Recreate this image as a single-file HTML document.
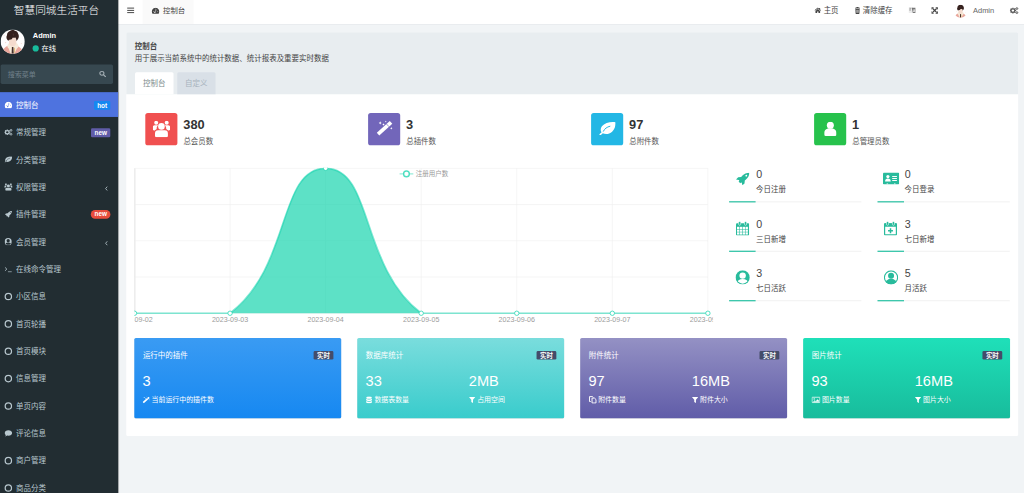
<!DOCTYPE html>
<html lang="zh-CN"><head><meta charset="utf-8"><title>智慧同城生活平台</title>
<style>
html,body{margin:0;padding:0}
body{width:1024px;height:493px;overflow:hidden;position:relative;background:#f1f4f6;font-family:"Liberation Sans","Noto Sans CJK SC",sans-serif;}
.t{position:absolute;white-space:nowrap;}
.abs{position:absolute}
#layer{position:absolute;left:0;top:0}
.badge{position:absolute;color:#fff;font-weight:700;text-align:center;white-space:nowrap}
</style></head><body>

<svg id="layer" width="1024" height="493" viewBox="0 0 1024 493"><rect x="118.00" y="0.00" width="906.00" height="24.00" rx="0" fill="#fff" /><rect x="118.00" y="24.00" width="906.00" height="0.55" rx="0" fill="#e2e6e9" /><rect x="127.20" y="7.60" width="6.90" height="1.00" rx="0" fill="#4a4a4a" /><rect x="127.20" y="9.90" width="6.90" height="1.00" rx="0" fill="#4a4a4a" /><rect x="127.20" y="12.10" width="6.90" height="1.00" rx="0" fill="#4a4a4a" /><rect x="142.60" y="0.00" width="50.90" height="24.00" rx="0" fill="#fafafa" /><rect x="126.25" y="32.30" width="891.90" height="403.70" rx="1.5" fill="#fff" /><path fill="#e8edf0" d="M126.25 94.25V33.80a1.5 1.5 0 0 1 1.5 -1.5H1016.65a1.5 1.5 0 0 1 1.5 1.5V94.25z"/><path fill="#fff" d="M135.00 94.25V73.80a1.5 1.5 0 0 1 1.5 -1.5H172.00a1.5 1.5 0 0 1 1.5 1.5V94.25z"/><path fill="#d9e0e7" d="M177.25 94.25V73.80a1.5 1.5 0 0 1 1.5 -1.5H214.05a1.5 1.5 0 0 1 1.5 1.5V94.25z"/><rect x="145.30" y="113.00" width="32.10" height="32.35" rx="2.6" fill="#f05050" /><rect x="368.10" y="113.00" width="32.10" height="32.35" rx="2.6" fill="#7266ba" /><rect x="591.10" y="113.00" width="32.10" height="32.35" rx="2.6" fill="#23b7e5" /><rect x="814.10" y="113.00" width="32.10" height="32.35" rx="2.6" fill="#27c24c" /><rect x="729.10" y="201.25" width="132.30" height="1.15" rx="0" fill="#f3f3f3" /><rect x="729.10" y="201.25" width="26.50" height="1.15" rx="0" fill="#1fbf9f" /><rect x="877.50" y="201.25" width="132.30" height="1.15" rx="0" fill="#f3f3f3" /><rect x="877.50" y="201.25" width="26.50" height="1.15" rx="0" fill="#1fbf9f" /><rect x="729.10" y="250.70" width="132.30" height="1.15" rx="0" fill="#f3f3f3" /><rect x="729.10" y="250.70" width="26.50" height="1.15" rx="0" fill="#1fbf9f" /><rect x="877.50" y="250.70" width="132.30" height="1.15" rx="0" fill="#f3f3f3" /><rect x="877.50" y="250.70" width="26.50" height="1.15" rx="0" fill="#1fbf9f" /><rect x="729.10" y="300.15" width="132.30" height="1.15" rx="0" fill="#f3f3f3" /><rect x="729.10" y="300.15" width="26.50" height="1.15" rx="0" fill="#1fbf9f" /><rect x="877.50" y="300.15" width="132.30" height="1.15" rx="0" fill="#f3f3f3" /><rect x="877.50" y="300.15" width="26.50" height="1.15" rx="0" fill="#1fbf9f" /><linearGradient id="cg0" x1="0" y1="0" x2="0" y2="1"><stop offset="0" stop-color="#3a9bf3"/><stop offset="1" stop-color="#1688f1"/></linearGradient><rect x="134.30" y="338.40" width="206.90" height="80.40" rx="1.6" fill="rgba(0,0,0,.10)" /><rect x="134.30" y="337.90" width="206.90" height="80.40" rx="1.6" fill="url(#cg0)" /><rect x="313.60" y="351.10" width="19.80" height="8.50" rx="1.3" fill="#444c69" /><linearGradient id="cg1" x1="0" y1="0" x2="0" y2="1"><stop offset="0" stop-color="#7adddd"/><stop offset="1" stop-color="#39cccc"/></linearGradient><rect x="357.25" y="338.40" width="206.90" height="80.40" rx="1.6" fill="rgba(0,0,0,.10)" /><rect x="357.25" y="337.90" width="206.90" height="80.40" rx="1.6" fill="url(#cg1)" /><rect x="536.55" y="351.10" width="19.80" height="8.50" rx="1.3" fill="#444c69" /><linearGradient id="cg2" x1="0" y1="0" x2="0" y2="1"><stop offset="0" stop-color="#9491c4"/><stop offset="1" stop-color="#605ca8"/></linearGradient><rect x="580.20" y="338.40" width="206.90" height="80.40" rx="1.6" fill="rgba(0,0,0,.10)" /><rect x="580.20" y="337.90" width="206.90" height="80.40" rx="1.6" fill="url(#cg2)" /><rect x="759.50" y="351.10" width="19.80" height="8.50" rx="1.3" fill="#444c69" /><linearGradient id="cg3" x1="0" y1="0" x2="0" y2="1"><stop offset="0" stop-color="#1fe0b9"/><stop offset="1" stop-color="#18bc9c"/></linearGradient><rect x="803.15" y="338.40" width="206.90" height="80.40" rx="1.6" fill="rgba(0,0,0,.10)" /><rect x="803.15" y="337.90" width="206.90" height="80.40" rx="1.6" fill="url(#cg3)" /><rect x="982.45" y="351.10" width="19.80" height="8.50" rx="1.3" fill="#444c69" /><clipPath id="cv"><rect x="134.3" y="167.75" width="578.75" height="160"/></clipPath><g clip-path="url(#cv)"><path stroke="#eeeeee" stroke-width=".6" d="M134.50 168.3V313.25"/><path stroke="#eeeeee" stroke-width=".6" d="M230.07 168.3V313.25"/><path stroke="#eeeeee" stroke-width=".6" d="M325.63 168.3V313.25"/><path stroke="#eeeeee" stroke-width=".6" d="M421.20 168.3V313.25"/><path stroke="#eeeeee" stroke-width=".6" d="M516.77 168.3V313.25"/><path stroke="#eeeeee" stroke-width=".6" d="M612.33 168.3V313.25"/><path stroke="#eeeeee" stroke-width=".6" d="M707.90 168.3V313.25"/><path stroke="#dcdcdc" stroke-width=".9" d="M134.85 168.3V313.25"/><path stroke="#eeeeee" stroke-width=".6" d="M134.5 168.30H707.9"/><path stroke="#eeeeee" stroke-width=".6" d="M134.5 204.54H707.9"/><path stroke="#eeeeee" stroke-width=".6" d="M134.5 240.78H707.9"/><path stroke="#eeeeee" stroke-width=".6" d="M134.5 277.01H707.9"/><path stroke="#eeeeee" stroke-width=".6" d="M134.5 313.25H707.9"/><path d="M134.50 313.25C134.50 313.25 196.14 313.25 230.07 313.25C291.71 266.51 277.85 168.30 325.63 168.30C373.42 168.30 359.56 266.51 421.20 313.25C455.13 313.25 468.98 313.25 516.77 313.25C564.55 313.25 564.55 313.25 612.33 313.25C660.12 313.25 707.90 313.25 707.90 313.25L707.90 313.25L134.50 313.25Z" fill="#18d4ae" fill-opacity=".7"/><path d="M134.50 313.25C134.50 313.25 196.14 313.25 230.07 313.25C291.71 266.51 277.85 168.30 325.63 168.30C373.42 168.30 359.56 266.51 421.20 313.25C455.13 313.25 468.98 313.25 516.77 313.25C564.55 313.25 564.55 313.25 612.33 313.25C660.12 313.25 707.90 313.25 707.90 313.25" fill="none" stroke="#18d4ae" stroke-opacity=".55" stroke-width="1.7"/><circle cx="134.50" cy="313.25" r="2.2" fill="#fff" stroke="#18d4ae" stroke-opacity=".8" stroke-width=".9"/><circle cx="230.07" cy="313.25" r="2.2" fill="#fff" stroke="#18d4ae" stroke-opacity=".8" stroke-width=".9"/><circle cx="325.63" cy="168.30" r="2.2" fill="#fff" stroke="#18d4ae" stroke-opacity=".8" stroke-width=".9"/><circle cx="421.20" cy="313.25" r="2.2" fill="#fff" stroke="#18d4ae" stroke-opacity=".8" stroke-width=".9"/><circle cx="516.77" cy="313.25" r="2.2" fill="#fff" stroke="#18d4ae" stroke-opacity=".8" stroke-width=".9"/><circle cx="612.33" cy="313.25" r="2.2" fill="#fff" stroke="#18d4ae" stroke-opacity=".8" stroke-width=".9"/><circle cx="707.90" cy="313.25" r="2.2" fill="#fff" stroke="#18d4ae" stroke-opacity=".8" stroke-width=".9"/><text x="134.50" y="322.3" text-anchor="middle" font-size="7.1" fill="#9c9c9c" font-family='"Liberation Sans","Noto Sans CJK SC",sans-serif'>2023-09-02</text><text x="230.07" y="322.3" text-anchor="middle" font-size="7.1" fill="#9c9c9c" font-family='"Liberation Sans","Noto Sans CJK SC",sans-serif'>2023-09-03</text><text x="325.63" y="322.3" text-anchor="middle" font-size="7.1" fill="#9c9c9c" font-family='"Liberation Sans","Noto Sans CJK SC",sans-serif'>2023-09-04</text><text x="421.20" y="322.3" text-anchor="middle" font-size="7.1" fill="#9c9c9c" font-family='"Liberation Sans","Noto Sans CJK SC",sans-serif'>2023-09-05</text><text x="516.77" y="322.3" text-anchor="middle" font-size="7.1" fill="#9c9c9c" font-family='"Liberation Sans","Noto Sans CJK SC",sans-serif'>2023-09-06</text><text x="612.33" y="322.3" text-anchor="middle" font-size="7.1" fill="#9c9c9c" font-family='"Liberation Sans","Noto Sans CJK SC",sans-serif'>2023-09-07</text><text x="707.90" y="322.3" text-anchor="middle" font-size="7.1" fill="#9c9c9c" font-family='"Liberation Sans","Noto Sans CJK SC",sans-serif'>2023-09-08</text><path stroke="#18d4ae" stroke-opacity=".45" stroke-width="1.2" d="M399.6 173.9H413.3"/><circle cx="406.45" cy="173.9" r="2.85" fill="#fff" stroke="#18d4ae" stroke-opacity=".75" stroke-width="1.4"/><text x="415.75" y="176.1" font-size="6.5" fill="#9a9a9a" font-family='"Liberation Sans","Noto Sans CJK SC",sans-serif'>注册用户数</text></g><linearGradient id="sbs" x1="0" y1="0" x2="1" y2="0"><stop offset="0" stop-color="#000" stop-opacity=".38"/><stop offset="1" stop-color="#000" stop-opacity="0"/></linearGradient><rect x="118.1" y="0" width="1.5" height="493" fill="url(#sbs)"/><rect x="0" y="0" width="118.1" height="493" fill="#222d32"/><circle cx="35.7" cy="48.4" r="3.1" fill="#18bc9c"/><rect x=".6" y="64.4" width="112.4" height="19.5" rx="1.6" fill="#374850"/><rect x="0" y="92.15" width="118.1" height="24.8" fill="#4e73df"/><rect x="94" y="101" width="16.3" height="8.7" rx="1.3" fill="#1688f1"/><rect x="91" y="128.20" width="19.3" height="9" rx="1.3" fill="#605ca8"/><rect x="90.8" y="210.10" width="19.6" height="8.6" rx="4.3" fill="#e74c3c"/><svg x="0.60" y="29.50" width="24.2" height="24.2" viewBox="0 0 24 24" preserveAspectRatio="none"><clipPath id="av1"><circle cx="12" cy="12" r="12"/></clipPath><g clip-path="url(#av1)"><rect width="24" height="24" fill="#fefdfd"/><circle cx="3.600" cy="5.600" r=".45" fill="#f2c4bd"/><circle cx="5" cy="13" r=".6" fill="#f6d2cc"/><circle cx="20.500" cy="14" r=".5" fill="#f6d2cc"/><path fill="#e9a69b" d="M1.500 24.500c0-4.600 2.800-7.700 6.800-8.700l3.700 3.400 3.800-3.200c3.800 1.100 6.700 4 6.700 8.500z"/><path fill="#f6ebdb" d="M6.800 15.700c.6-1.800 2.400-3.200 5.200-3.200s4.800 1.300 5.500 3.100c.4 1.200-.2 2.500-1.300 3.300L13.600 24H10l-2-5.200c-1-.8-1.600-1.900-1.200-3.100z"/><path fill="#f4dbce" d="M8.300 8h7.300v4.600c0 2.400-1.600 4.200-3.600 4.200s-3.700-1.800-3.700-4.200z"/><path fill="#35211e" d="M7.300 10.800c-1.600-1.100-2-3.500-.9-5.300-.2-1.700 1-3.500 2.800-4.100C10.300.500 12.300.300 13.800.900c1.800.300 3.200 1.500 3.600 3.200 1 1.500 1 3.900-.3 5.500-.4.900-1 1.400-1.600 1.600.2-1.300-.1-2.500-.8-3.300-.9.500-1.900.500-2.800.200-.3 1-.9 1.700-1.800 2-.9-.2-1.500.000-2 .700z"/><path fill="#6b4a40" d="M12.300 3.400c.5 1 .6 2.100.3 3.200-.4-.9-.6-2-.3-3.200z"/><path fill="#45302b" d="M11.200 17.300h1.500l.3 6.700h-2.100z"/><path fill="#d8a55a" d="M13.600 18h.7V23h-.7z"/></g></svg><svg x="99.00" y="70.60" width="7.1" height="6.7" viewBox="0 0 16 16" preserveAspectRatio="none"><circle cx="6.500" cy="6.500" r="4.600" fill="none" stroke="#a3aeb4" stroke-width="2.400"/><path stroke="#a3aeb4" stroke-width="2.800" stroke-linecap="round" d="M10.400 10.400l4.100 4.100"/></svg><svg x="4.40" y="101.60" width="8" height="6.8" viewBox="0 1 16 13" preserveAspectRatio="none"><path fill="#fff" d="M8 1.5A7.5 7.5 0 0 0 1.6 12.9c.2.4.6.6 1 .6h10.8c.4 0 .8-.2 1-.6A7.5 7.5 0 0 0 8 1.5z"/><path fill="none" stroke="#4e73df" stroke-width="1.1" d="M6.6 10.6 9.4 5"/><circle cx="6.6" cy="10.6" r="1.3" fill="#4e73df"/><circle cx="3.6" cy="8.6" r=".8" fill="#4e73df"/><circle cx="12.4" cy="8.6" r=".8" fill="#4e73df"/><circle cx="8" cy="4" r=".8" fill="#4e73df"/></svg><svg x="4.40" y="128.65" width="8.2" height="7.2" viewBox="0 0 16 16" preserveAspectRatio="none"><circle cx="5.600" cy="8" r="3.700" fill="none" stroke="#b8c7ce" stroke-width="2.500"/><path stroke="#b8c7ce" stroke-width="2.200" d="M5.600 2v2M5.600 12v2M-.4 8h2M9.600 8h2M1.400 3.800l1.400 1.400M8.400 10.800l1.400 1.400M1.400 12.200l1.400-1.400M8.400 5.200l1.400-1.400"/><circle cx="13" cy="3.600" r="1.700" fill="none" stroke="#b8c7ce" stroke-width="1.700"/><circle cx="13" cy="12.400" r="1.700" fill="none" stroke="#b8c7ce" stroke-width="1.700"/><path stroke="#b8c7ce" stroke-width="1.300" d="M13 .5v1.300M13 5.400v1.300M10 3.600h1.300M14.700 3.600H16M13 9.300v1.300M13 14.200v1.300M10 12.400h1.300M14.700 12.400H16"/></svg><svg x="4.40" y="156.30" width="8" height="6.2" viewBox="0 0 17 14" preserveAspectRatio="none"><path fill="#b8c7ce" d="M16.300.500C11.500-.200 5.500 1.200 2.800 4.800 1.200 7 1.300 9.400 2.500 10.900L.5 12.600a.85.85 0 0 0 1.200 1.200l2-1.800c2.600 1.300 6.600 1 9.300-1.700 3-3 3.600-6.600 3.300-9.800z"/><path fill="none" stroke="#222d32" stroke-width="1" stroke-linecap="round" d="M4.300 9.800C5.500 7.200 7.800 5.400 10.800 4.700"/></svg><svg x="4.30" y="183.35" width="8.2" height="7.4" viewBox="0 0 17.3 16.4" preserveAspectRatio="none"><circle cx="3.400" cy="2" r="2" fill="#b8c7ce"/><circle cx="13.900" cy="2" r="2" fill="#b8c7ce"/><path fill="#b8c7ce" d="M1.800 4.500h3.600c-1.100.900-1.700 2.200-1.500 3.700-.7.400-1.500.900-2 1.400H1.200C.5 9.600 0 9.100 0 8.400V6.300C0 5.300.8 4.500 1.800 4.500zM15.500 4.500h-3.600c1.100.900 1.700 2.200 1.500 3.700.7.400 1.500.900 2 1.400h.7c.7 0 1.200-.5 1.200-1.200V6.300c0-1-.8-1.800-1.800-1.800z"/><circle cx="8.650" cy="5.600" r="3.300" fill="#b8c7ce"/><path fill="#b8c7ce" d="M5.300 9.500h6.700a3.100 3.100 0 0 1 3.100 3.100v2.300a1.500 1.500 0 0 1-1.500 1.500H3.700a1.500 1.500 0 0 1-1.500-1.500v-2.300a3.100 3.100 0 0 1 3.100-3.100z"/></svg><svg x="4.80" y="210.80" width="7.2" height="7" viewBox="0 0 13.5 13" preserveAspectRatio="none"><path fill="#b8c7ce" d="M13.400.200C10.500.200 8.200 1.200 6.200 3.400L5.200 4.600 2.200 4.900 0 7l2.900.600.4.700-.7.900 1.600 1.600.9-.7.700.4.600 2.500 2.100-1.800.3-3 1.200-1c2.200-2 3.200-4.200 3.400-7z"/><circle cx="10.300" cy="3.200" r=".9" fill="#222d32"/></svg><svg x="4.60" y="238.05" width="7.2" height="7.2" viewBox="0 0 14.3 14.3" preserveAspectRatio="none"><circle cx="7.150" cy="7.150" r="7.150" fill="#b8c7ce"/><clipPath id="ucc2"><circle cx="7.150" cy="7.150" r="6.200"/></clipPath><circle cx="7.150" cy="5.300" r="3.200" fill="#222d32"/><ellipse cx="7.150" cy="13.100" rx="5.800" ry="4.400" fill="#222d32" clip-path="url(#ucc2)"/></svg><svg x="4.40" y="265.60" width="7.6" height="7" viewBox="0 0 14 14" preserveAspectRatio="none"><path fill="none" stroke="#b8c7ce" stroke-width="1.500" d="M1 3.500l3.600 3.500L1 10.500M6.500 12.500h7"/></svg><svg x="4.05" y="292.25" width="8.6" height="8.6" viewBox="0 0 16 16" preserveAspectRatio="none"><circle cx="8" cy="8" r="5.900" fill="none" stroke="#b8c7ce" stroke-width="2.300"/></svg><svg x="4.05" y="319.60" width="8.6" height="8.6" viewBox="0 0 16 16" preserveAspectRatio="none"><circle cx="8" cy="8" r="5.900" fill="none" stroke="#b8c7ce" stroke-width="2.300"/></svg><svg x="4.05" y="346.95" width="8.6" height="8.6" viewBox="0 0 16 16" preserveAspectRatio="none"><circle cx="8" cy="8" r="5.900" fill="none" stroke="#b8c7ce" stroke-width="2.300"/></svg><svg x="4.05" y="374.30" width="8.6" height="8.6" viewBox="0 0 16 16" preserveAspectRatio="none"><circle cx="8" cy="8" r="5.900" fill="none" stroke="#b8c7ce" stroke-width="2.300"/></svg><svg x="4.05" y="401.65" width="8.6" height="8.6" viewBox="0 0 16 16" preserveAspectRatio="none"><circle cx="8" cy="8" r="5.900" fill="none" stroke="#b8c7ce" stroke-width="2.300"/></svg><svg x="4.40" y="429.50" width="8" height="7.4" viewBox="0 0 16 15" preserveAspectRatio="none"><path fill="#b8c7ce" d="M8 1.500c4.100 0 7.500 2.500 7.500 5.600S12.100 12.700 8 12.700c-.8 0-1.600-.1-2.300-.3-1.200.9-2.700 1.500-4.400 1.600.9-.8 1.500-1.700 1.600-2.700C1.400 10.300.5 8.800.5 7.100.5 4 3.900 1.500 8 1.500z"/></svg><svg x="4.05" y="456.35" width="8.6" height="8.6" viewBox="0 0 16 16" preserveAspectRatio="none"><circle cx="8" cy="8" r="5.900" fill="none" stroke="#b8c7ce" stroke-width="2.300"/></svg><svg x="4.05" y="483.70" width="8.6" height="8.6" viewBox="0 0 16 16" preserveAspectRatio="none"><circle cx="8" cy="8" r="5.900" fill="none" stroke="#b8c7ce" stroke-width="2.300"/></svg><svg x="104.20" y="185.75" width="4.6" height="5.6" viewBox="0 0 16 16" preserveAspectRatio="none"><path fill="none" stroke="#b8c7ce" stroke-width="2.600" d="M10.500 2.500L5 8l5.500 5.500"/></svg><svg x="104.20" y="240.45" width="4.6" height="5.6" viewBox="0 0 16 16" preserveAspectRatio="none"><path fill="none" stroke="#b8c7ce" stroke-width="2.600" d="M10.500 2.500L5 8l5.500 5.500"/></svg><svg x="151.50" y="7.60" width="8.1" height="6.4" viewBox="0 1 16 13" preserveAspectRatio="none"><path fill="#444" d="M8 1.5A7.5 7.5 0 0 0 1.6 12.9c.2.4.6.6 1 .6h10.8c.4 0 .8-.2 1-.6A7.5 7.5 0 0 0 8 1.5z"/><path fill="none" stroke="#fafafa" stroke-width="1.1" d="M6.6 10.6 9.4 5"/><circle cx="6.6" cy="10.6" r="1.3" fill="#fafafa"/><circle cx="3.6" cy="8.6" r=".8" fill="#fafafa"/><circle cx="12.4" cy="8.6" r=".8" fill="#fafafa"/><circle cx="8" cy="4" r=".8" fill="#fafafa"/></svg><svg x="814.40" y="7.30" width="6.8" height="6" viewBox="0 0 16 15" preserveAspectRatio="none"><path fill="#444" d="M8 .8L.2 7.500l1.100 1.300L8 3.100l6.700 5.700 1.100-1.300-2.300-2V1.500h-2.300v2zM8 4.300L2.500 9v4.800c0 .4.300.7.700.7h3.300v-3.800h3v3.800h3.300c.4 0 .7-.3.700-.7V9z"/></svg><svg x="854.90" y="7.00" width="5.2" height="6.9" viewBox="0 0 16 16" preserveAspectRatio="none"><path fill="#444" d="M5 0h6l.8 1.600H16v2H0v-2h4.200zM1.500 4.600h13l-.7 10.200c0 .7-.5 1.200-1.200 1.200H3.400c-.7 0-1.200-.5-1.200-1.200z"/><path stroke="#fff" stroke-width="1.200" d="M5.200 6.500v7M8 6.500v7M10.800 6.500v7"/></svg><svg x="908.40" y="6.70" width="7.4" height="7.4" viewBox="0 0 16 16" preserveAspectRatio="none"><path fill="#444" fill-opacity=".10" d="M.5 1h9.500l1.500 12.500H.5z"/><path fill="#444" fill-opacity=".72" d="M7.300 2h8v11.500H9.600z"/><path fill="none" stroke="#fff" stroke-width="1.300" d="M10.600 11.600l1.700-6 1.700 6M11.100 9.900h2.400"/><path fill="none" stroke="#444" stroke-opacity=".6" stroke-width="1" d="M1.500 3.500h4.500M3.800 2.200v1.300M5.300 3.500c-.5 2.500-2 4-3.500 5M2.600 5.500c.8 1.800 2 2.800 3.200 3.300"/></svg><svg x="931.20" y="7.00" width="6.9" height="6.9" viewBox="0 0 16 16" preserveAspectRatio="none"><path stroke="#444" stroke-width="2.800" d="M3.500 3.500l9 9M12.500 3.500l-9 9"/><path fill="#444" d="M.5.500h6L.5 6.500zM15.500.500v6L9.500.500zM.5 15.500v-6l6 6zM15.500 15.500h-6l6-6z"/></svg><svg x="953.90" y="4.40" width="13.3" height="13.3" viewBox="0 0 24 24" preserveAspectRatio="none"><clipPath id="av2"><circle cx="12" cy="12" r="12"/></clipPath><g clip-path="url(#av2)"><circle cx="3.600" cy="5.600" r=".45" fill="#f2c4bd"/><circle cx="5" cy="13" r=".6" fill="#f6d2cc"/><circle cx="20.500" cy="14" r=".5" fill="#f6d2cc"/><path fill="#e9a69b" d="M1.500 24.500c0-4.600 2.800-7.700 6.800-8.700l3.700 3.400 3.800-3.200c3.800 1.100 6.700 4 6.700 8.500z"/><path fill="#f6ebdb" d="M6.800 15.700c.6-1.800 2.400-3.200 5.200-3.200s4.800 1.300 5.500 3.100c.4 1.200-.2 2.500-1.300 3.300L13.600 24H10l-2-5.200c-1-.8-1.600-1.900-1.200-3.100z"/><path fill="#f4dbce" d="M8.300 8h7.300v4.600c0 2.400-1.600 4.200-3.600 4.200s-3.700-1.800-3.700-4.200z"/><path fill="#35211e" d="M7.300 10.800c-1.600-1.100-2-3.500-.9-5.300-.2-1.700 1-3.500 2.800-4.100C10.300.500 12.300.300 13.800.900c1.800.300 3.200 1.500 3.600 3.200 1 1.500 1 3.900-.3 5.500-.4.900-1 1.400-1.600 1.600.2-1.300-.1-2.500-.8-3.300-.9.500-1.900.500-2.800.200-.3 1-.9 1.700-1.800 2-.9-.2-1.500.000-2 .700z"/><path fill="#6b4a40" d="M12.300 3.400c.5 1 .6 2.100.3 3.200-.4-.9-.6-2-.3-3.200z"/><path fill="#45302b" d="M11.200 17.300h1.500l.3 6.700h-2.100z"/><path fill="#d8a55a" d="M13.600 18h.7V23h-.7z"/></g></svg><svg x="1009.90" y="6.90" width="8.6" height="7.4" viewBox="0 0 16 16" preserveAspectRatio="none"><circle cx="5.600" cy="8" r="3.700" fill="none" stroke="#5a5a5a" stroke-width="2.500"/><path stroke="#5a5a5a" stroke-width="2.200" d="M5.600 2v2M5.600 12v2M-.4 8h2M9.600 8h2M1.400 3.800l1.400 1.400M8.400 10.800l1.400 1.400M1.400 12.200l1.400-1.400M8.400 5.200l1.400-1.400"/><circle cx="13" cy="3.600" r="1.700" fill="none" stroke="#5a5a5a" stroke-width="1.700"/><circle cx="13" cy="12.400" r="1.700" fill="none" stroke="#5a5a5a" stroke-width="1.700"/><path stroke="#5a5a5a" stroke-width="1.300" d="M13 .5v1.300M13 5.400v1.300M10 3.600h1.300M14.700 3.600H16M13 9.300v1.300M13 14.200v1.300M10 12.400h1.300M14.700 12.400H16"/></svg><svg x="152.80" y="120.80" width="17.3" height="16.4" viewBox="0 0 17.3 16.4" preserveAspectRatio="none"><circle cx="3.400" cy="2" r="2" fill="#fff"/><circle cx="13.900" cy="2" r="2" fill="#fff"/><path fill="#fff" d="M1.800 4.500h3.600c-1.100.900-1.700 2.200-1.500 3.700-.7.400-1.500.900-2 1.400H1.200C.5 9.600 0 9.100 0 8.400V6.300C0 5.300.8 4.500 1.800 4.500zM15.500 4.500h-3.600c1.100.900 1.700 2.200 1.500 3.700.7.400 1.500.900 2 1.400h.7c.7 0 1.200-.5 1.200-1.200V6.300c0-1-.8-1.800-1.800-1.800z"/><circle cx="8.650" cy="5.600" r="3.300" fill="#fff"/><path fill="#fff" d="M5.300 9.500h6.700a3.100 3.100 0 0 1 3.100 3.100v2.300a1.500 1.500 0 0 1-1.500 1.500H3.700a1.500 1.500 0 0 1-1.500-1.500v-2.300a3.100 3.100 0 0 1 3.100-3.100z"/></svg><svg x="376.50" y="120.50" width="16.5" height="15.5" viewBox="0 0 16.5 15.5" preserveAspectRatio="none"><path fill="#fff" d="M.3 12.300 13.300.600l2.500 2.700-13 11.700z"/><path stroke="#7266ba" stroke-width=".7" d="M10 3.500l2.500 2.700"/><path fill="#fff" d="M3.700.800l.5 1.100 1.100.5-1.100.5-.5 1.100-.5-1.100-1.100-.5 1.100-.5zM7 2.800l.4.800.8.400-.8.400-.4.800-.4-.8-.8-.4.800-.4zM9.300.000l.3.700.7.300-.7.300-.3.700-.3-.7-.7-.3.700-.3zM14.800 6.600l.4.800.8.400-.8.400-.4.800-.4-.8-.8-.4.800-.4z"/></svg><svg x="599.10" y="121.70" width="16.7" height="13.4" viewBox="0 0 16.7 13.8" preserveAspectRatio="none"><path fill="#fff" d="M16.300.500C11.500-.200 5.500 1.200 2.800 4.800 1.200 7 1.300 9.400 2.500 10.900L.5 12.600a.85.85 0 0 0 1.200 1.200l2-1.800c2.600 1.300 6.600 1 9.300-1.700 3-3 3.600-6.600 3.300-9.800z"/><path fill="none" stroke="#23b7e5" stroke-width="1" stroke-linecap="round" d="M4.300 9.800C5.500 7.200 7.800 5.400 10.800 4.700"/></svg><svg x="824.20" y="121.70" width="12.3" height="14.2" viewBox="0 0 12.3 14.2" preserveAspectRatio="none"><circle cx="6.150" cy="3.600" r="3.500" fill="#fff"/><path fill="#fff" d="M6.150 6.600c3.800 0 6.150 1.700 6.150 4.800v1.300a1.500 1.500 0 0 1-1.500 1.500H1.500A1.500 1.500 0 0 1 0 12.700v-1.300c0-3.100 2.350-4.800 6.150-4.800z"/></svg><svg x="736.00" y="172.50" width="13.5" height="12.8" viewBox="0 0 13.5 13" preserveAspectRatio="none"><path fill="#28bb9c" d="M13.400.200C10.500.200 8.200 1.200 6.200 3.400L5.200 4.600 2.200 4.900 0 7l2.900.600.4.700-.7.900 1.600 1.600.9-.7.700.4.600 2.500 2.100-1.800.3-3 1.200-1c2.200-2 3.200-4.200 3.400-7z"/><circle cx="10.300" cy="3.200" r=".9" fill="#fff"/></svg><svg x="883.00" y="172.50" width="16.2" height="12.1" viewBox="0 0 16.2 12" preserveAspectRatio="none"><rect x="0" y="0" width="16.200" height="12" rx="1.300" fill="#28bb9c"/><circle cx="4.900" cy="4" r="1.600" fill="#fff"/><path fill="#fff" d="M2.100 8.800c0-1.900 1.100-2.800 2.800-2.800s2.800.900 2.800 2.800v.200H2.100z"/><path fill="#fff" d="M9.200 3.450h4.700v1H9.200zM9.200 5.450h4.700v1H9.200zM9.200 7.450h4.700v1H9.200zM3.600 11h1.500v1H3.600zM11 11h1.500v1H11z"/></svg><svg x="736.00" y="221.50" width="13.2" height="14.1" viewBox="0 0 13.2 14.1" preserveAspectRatio="none"><rect x="0" y="1.800" width="13.200" height="12.300" rx="1.100" fill="#28bb9c"/><rect x="1.00" y="5.30" width="2.35" height="2.25" fill="#fff"/><rect x="3.85" y="5.30" width="2.35" height="2.25" fill="#fff"/><rect x="6.70" y="5.30" width="2.35" height="2.25" fill="#fff"/><rect x="9.55" y="5.30" width="2.35" height="2.25" fill="#fff"/><rect x="1.00" y="8.05" width="2.35" height="2.25" fill="#fff"/><rect x="3.85" y="8.05" width="2.35" height="2.25" fill="#fff"/><rect x="6.70" y="8.05" width="2.35" height="2.25" fill="#fff"/><rect x="9.55" y="8.05" width="2.35" height="2.25" fill="#fff"/><rect x="1.00" y="10.80" width="2.35" height="2.25" fill="#fff"/><rect x="3.85" y="10.80" width="2.35" height="2.25" fill="#fff"/><rect x="6.70" y="10.80" width="2.35" height="2.25" fill="#fff"/><rect x="9.55" y="10.80" width="2.35" height="2.25" fill="#fff"/><rect x="2.600" y="-.1" width="2.100" height="3.900" rx="1.05" fill="#28bb9c" stroke="#fff" stroke-width=".55"/><rect x="8.500" y="-.1" width="2.100" height="3.900" rx="1.05" fill="#28bb9c" stroke="#fff" stroke-width=".55"/></svg><svg x="883.90" y="221.50" width="13.2" height="14.1" viewBox="0 0 13.2 14.1" preserveAspectRatio="none"><rect x=".65" y="2.400" width="11.900" height="11.050" rx=".9" fill="#fff" stroke="#28bb9c" stroke-width="1.300"/><rect x="0" y="1.800" width="13.200" height="3.400" rx=".9" fill="#28bb9c"/><rect x="2.600" y="-.1" width="2.100" height="3.900" rx="1.05" fill="#28bb9c" stroke="#fff" stroke-width=".55"/><rect x="8.500" y="-.1" width="2.100" height="3.900" rx="1.05" fill="#28bb9c" stroke="#fff" stroke-width=".55"/><path stroke="#28bb9c" stroke-width="1.500" d="M6.600 6.800v4.900M4.150 9.250h4.900"/></svg><svg x="735.50" y="270.30" width="14.3" height="14.3" viewBox="0 0 14.3 14.3" preserveAspectRatio="none"><circle cx="7.150" cy="7.150" r="7.150" fill="#28bb9c"/><clipPath id="ucc"><circle cx="7.150" cy="7.150" r="6.200"/></clipPath><circle cx="7.150" cy="5.300" r="3.200" fill="#fff"/><ellipse cx="7.150" cy="13.100" rx="5.800" ry="4.400" fill="#fff" clip-path="url(#ucc)"/></svg><svg x="883.90" y="270.30" width="14.3" height="14.3" viewBox="0 0 14.3 14.3" preserveAspectRatio="none"><circle cx="7.150" cy="7.150" r="6.600" fill="#fff" stroke="#28bb9c" stroke-width="1.100"/><clipPath id="uco"><circle cx="7.150" cy="7.150" r="6.700"/></clipPath><circle cx="7.150" cy="5.500" r="3" fill="#28bb9c"/><ellipse cx="7.150" cy="13.400" rx="5.700" ry="4.900" fill="#28bb9c" clip-path="url(#uco)"/></svg><svg x="142.50" y="396.40" width="7.5" height="7" viewBox="0 0 16.5 15.5" preserveAspectRatio="none"><path fill="#fff" d="M.3 12.300 13.300.600l2.500 2.700-13 11.700z"/><path stroke="#2a91f2" stroke-width=".7" d="M10 3.500l2.500 2.700"/><path fill="#fff" d="M3.700.800l.5 1.100 1.100.5-1.100.5-.5 1.100-.5-1.100-1.100-.5 1.100-.5zM7 2.800l.4.800.8.400-.8.400-.4.800-.4-.8-.8-.4.800-.4zM9.300.000l.3.700.7.300-.7.300-.3.700-.3-.7-.7-.3.700-.3zM14.800 6.600l.4.800.8.400-.8.400-.4.800-.4-.8-.8-.4.800-.4z"/></svg><svg x="365.55" y="396.30" width="7" height="7.2" viewBox="0 0 16 16" preserveAspectRatio="none"><ellipse cx="8" cy="3" rx="6.500" ry="2.600" fill="#fff"/><path fill="#fff" d="M1.500 5.200c1.300 1.200 3.700 1.800 6.500 1.800s5.200-.6 6.500-1.800V8c0 1.400-2.900 2.600-6.500 2.600S1.500 9.400 1.500 8zM1.500 10.200c1.300 1.200 3.700 1.800 6.500 1.800s5.200-.6 6.500-1.800V13c0 1.400-2.900 2.600-6.500 2.600S1.500 14.400 1.500 13z"/></svg><svg x="468.75" y="396.50" width="6.8" height="7" viewBox="0 0 16 16" preserveAspectRatio="none"><path fill="#fff" d="M.6 1h14.800L10 7.400v7.600l-4-2.600v-5z"/></svg><svg x="588.70" y="395.90" width="8.2" height="7.8" viewBox="0 0 16 16" preserveAspectRatio="none"><path fill="none" stroke="#fff" stroke-width="1.900" d="M6.500 4.500h4.800l3 3v7h-7.800zM4 11.500H1.500v-10h6l1.700 1.700"/></svg><svg x="691.70" y="396.50" width="6.8" height="7" viewBox="0 0 16 16" preserveAspectRatio="none"><path fill="#fff" d="M.6 1h14.800L10 7.400v7.600l-4-2.600v-5z"/></svg><svg x="811.55" y="396.30" width="8.8" height="7.2" viewBox="0 0 16 16" preserveAspectRatio="none"><rect x=".8" y="2" width="14.400" height="12" rx="1" fill="none" stroke="#fff" stroke-width="1.600"/><circle cx="4.800" cy="5.800" r="1.400" fill="#fff"/><path fill="#fff" d="M2.500 12.300l3.300-3.300 1.800 1.800 3.400-4.300 2.500 3.200v2.600z"/></svg><svg x="914.65" y="396.50" width="6.8" height="7" viewBox="0 0 16 16" preserveAspectRatio="none"><path fill="#fff" d="M.6 1h14.800L10 7.400v7.600l-4-2.600v-5z"/></svg></svg>
<div class="t" style="left:0;width:113px;text-align:center;top:1.5px;font-size:10.67px;line-height:16px;color:#fff;font-weight:300">智慧同城生活平台</div>
<div id="t1" class="t " style="left:32.8px;top:30.67px;font-size:7.47px;line-height:10.46px;color:#fff;font-weight:700;">Admin</div>
<div id="t2" class="t " style="left:41.4px;top:44.01px;font-size:7.3px;line-height:10.22px;color:#fff;font-weight:400;">在线</div>
<div id="t3" class="t " style="left:7.8px;top:69.86px;font-size:7px;line-height:9.8px;color:#70808a;font-weight:400;">搜索菜单</div>
<div id="t4" class="t " style="left:16px;top:101.09px;font-size:7.5px;line-height:10.5px;color:#fff;font-weight:400;">控制台</div>
<div id="t5" class="t " style="left:16px;top:128.00px;font-size:7.5px;line-height:10.5px;color:#b8c7ce;font-weight:400;">常规管理</div>
<div id="t6" class="t " style="left:16px;top:155.63px;font-size:7.5px;line-height:10.5px;color:#b8c7ce;font-weight:400;">分类管理</div>
<div id="t7" class="t " style="left:16px;top:183.22px;font-size:7.5px;line-height:10.5px;color:#b8c7ce;font-weight:400;">权限管理</div>
<div id="t8" class="t " style="left:16px;top:210.09px;font-size:7.5px;line-height:10.5px;color:#b8c7ce;font-weight:400;">插件管理</div>
<div id="t9" class="t " style="left:16px;top:237.72px;font-size:7.5px;line-height:10.5px;color:#b8c7ce;font-weight:400;">会员管理</div>
<div id="t10" class="t " style="left:16px;top:264.55px;font-size:7.5px;line-height:10.5px;color:#b8c7ce;font-weight:400;">在线命令管理</div>
<div id="t11" class="t " style="left:16px;top:292.18px;font-size:7.5px;line-height:10.5px;color:#b8c7ce;font-weight:400;">小区信息</div>
<div id="t12" class="t " style="left:16px;top:319.81px;font-size:7.5px;line-height:10.5px;color:#b8c7ce;font-weight:400;">首页轮播</div>
<div id="t13" class="t " style="left:16px;top:346.64px;font-size:7.5px;line-height:10.5px;color:#b8c7ce;font-weight:400;">首页模块</div>
<div id="t14" class="t " style="left:16px;top:374.27px;font-size:7.5px;line-height:10.5px;color:#b8c7ce;font-weight:400;">信息管理</div>
<div id="t15" class="t " style="left:16px;top:401.70px;font-size:7.5px;line-height:10.5px;color:#b8c7ce;font-weight:400;">单页内容</div>
<div id="t16" class="t " style="left:16px;top:428.73px;font-size:7.5px;line-height:10.5px;color:#b8c7ce;font-weight:400;">评论信息</div>
<div id="t17" class="t " style="left:16px;top:456.36px;font-size:7.5px;line-height:10.5px;color:#b8c7ce;font-weight:400;">商户管理</div>
<div id="t18" class="t " style="left:16px;top:483.83px;font-size:7.5px;line-height:10.5px;color:#b8c7ce;font-weight:400;">商品分类</div>
<div id="t19" class="t " style="left:97.2px;top:101.58px;font-size:6.4px;line-height:8.96px;color:#fff;font-weight:700;">hot</div>
<div id="t20" class="t " style="left:94.6px;top:128.51px;font-size:6.4px;line-height:8.96px;color:#fff;font-weight:700;">new</div>
<div id="t21" class="t " style="left:94.6px;top:209.82px;font-size:6.4px;line-height:8.96px;color:#fff;font-weight:700;">new</div>
<div id="t22" class="t " style="left:163px;top:5.57px;font-size:7.4px;line-height:10.36px;color:#444;font-weight:400;">控制台</div>
<div id="t23" class="t " style="left:823.7px;top:6.49px;font-size:7.45px;line-height:10.43px;color:#444;font-weight:400;">主页</div>
<div id="t24" class="t " style="left:862.8px;top:6.49px;font-size:7.45px;line-height:10.43px;color:#444;font-weight:400;">清除缓存</div>
<div id="t25" class="t " style="left:973px;top:6.07px;font-size:7.47px;line-height:10.46px;color:#666;font-weight:400;">Admin</div>
<div id="t26" class="t " style="left:134.75px;top:42.02px;font-size:7.47px;line-height:10.46px;color:#444;font-weight:700;">控制台</div>
<div id="t27" class="t " style="left:134.75px;top:53.57px;font-size:7.47px;line-height:10.46px;color:#444;font-weight:400;">用于展示当前系统中的统计数据、统计报表及重要实时数据</div>
<div id="t28" class="t " style="left:143px;top:79.02px;font-size:7.47px;line-height:10.46px;color:#7b8a8b;font-weight:400;">控制台</div>
<div id="t29" class="t " style="left:185px;top:79.02px;font-size:7.47px;line-height:10.46px;color:#a8b3bd;font-weight:400;">自定义</div>
<div id="t30" class="t " style="left:183.3px;top:116.94px;font-size:12.8px;line-height:16px;color:#333;font-weight:700;">380</div>
<div id="t31" class="t " style="left:183.4px;top:136.65px;font-size:7.47px;line-height:10.46px;color:#555;font-weight:400;">总会员数</div>
<div id="t32" class="t " style="left:406.1px;top:116.94px;font-size:12.8px;line-height:16px;color:#333;font-weight:700;">3</div>
<div id="t33" class="t " style="left:406.20000000000005px;top:136.65px;font-size:7.47px;line-height:10.46px;color:#555;font-weight:400;">总插件数</div>
<div id="t34" class="t " style="left:629.1px;top:116.94px;font-size:12.8px;line-height:16px;color:#333;font-weight:700;">97</div>
<div id="t35" class="t " style="left:629.2px;top:136.65px;font-size:7.47px;line-height:10.46px;color:#555;font-weight:400;">总附件数</div>
<div id="t36" class="t " style="left:852.1px;top:116.94px;font-size:12.8px;line-height:16px;color:#333;font-weight:700;">1</div>
<div id="t37" class="t " style="left:852.2px;top:136.65px;font-size:7.47px;line-height:10.46px;color:#555;font-weight:400;">总管理员数</div>
<div id="t38" class="t " style="left:756.3000000000001px;top:167.80px;font-size:10.67px;line-height:13px;color:#444;font-weight:400;">0</div>
<div id="t39" class="t " style="left:756.1px;top:185.47px;font-size:7.47px;line-height:10.46px;color:#444;font-weight:400;">今日注册</div>
<div id="t40" class="t " style="left:904.7px;top:167.80px;font-size:10.67px;line-height:13px;color:#444;font-weight:400;">0</div>
<div id="t41" class="t " style="left:904.5px;top:185.47px;font-size:7.47px;line-height:10.46px;color:#444;font-weight:400;">今日登录</div>
<div id="t42" class="t " style="left:756.3000000000001px;top:217.85px;font-size:10.67px;line-height:13px;color:#444;font-weight:400;">0</div>
<div id="t43" class="t " style="left:756.1px;top:235.24px;font-size:7.47px;line-height:10.46px;color:#444;font-weight:400;">三日新增</div>
<div id="t44" class="t " style="left:904.7px;top:217.85px;font-size:10.67px;line-height:13px;color:#444;font-weight:400;">3</div>
<div id="t45" class="t " style="left:904.5px;top:235.24px;font-size:7.47px;line-height:10.46px;color:#444;font-weight:400;">七日新增</div>
<div id="t46" class="t " style="left:756.3000000000001px;top:266.70px;font-size:10.67px;line-height:13px;color:#444;font-weight:400;">3</div>
<div id="t47" class="t " style="left:756.1px;top:284.29px;font-size:7.47px;line-height:10.46px;color:#444;font-weight:400;">七日活跃</div>
<div id="t48" class="t " style="left:904.7px;top:266.70px;font-size:10.67px;line-height:13px;color:#444;font-weight:400;">5</div>
<div id="t49" class="t " style="left:904.5px;top:284.29px;font-size:7.47px;line-height:10.46px;color:#444;font-weight:400;">月活跃</div>
<div id="t50" class="t " style="left:142.9px;top:350.93px;font-size:7.47px;line-height:10.46px;color:#fff;font-weight:400;">运行中的插件</div>
<div id="t51" class="t " style="left:317.1px;top:352.10px;font-size:6.4px;line-height:8.96px;color:#fff;font-weight:700;">实时</div>
<div id="t52" class="t " style="left:142.6px;top:372.50px;font-size:14.6px;line-height:17px;color:#fff;font-weight:400;">3</div>
<div id="t53" class="t " style="left:151.6px;top:395.05px;font-size:6.93px;line-height:9.7px;color:#fff;font-weight:400;">当前运行中的插件数</div>
<div id="t54" class="t " style="left:365.85px;top:350.93px;font-size:7.47px;line-height:10.46px;color:#fff;font-weight:400;">数据库统计</div>
<div id="t55" class="t " style="left:540.05px;top:352.10px;font-size:6.4px;line-height:8.96px;color:#fff;font-weight:700;">实时</div>
<div id="t56" class="t " style="left:365.55px;top:372.50px;font-size:14.6px;line-height:17px;color:#fff;font-weight:400;">33</div>
<div id="t57" class="t " style="left:374.45px;top:395.05px;font-size:6.93px;line-height:9.7px;color:#fff;font-weight:400;">数据表数量</div>
<div id="t58" class="t " style="left:468.85px;top:372.50px;font-size:14.6px;line-height:17px;color:#fff;font-weight:400;">2MB</div>
<div id="t59" class="t " style="left:477.15px;top:395.05px;font-size:6.93px;line-height:9.7px;color:#fff;font-weight:400;">占用空间</div>
<div id="t60" class="t " style="left:588.8px;top:350.93px;font-size:7.47px;line-height:10.46px;color:#fff;font-weight:400;">附件统计</div>
<div id="t61" class="t " style="left:763.0px;top:352.10px;font-size:6.4px;line-height:8.96px;color:#fff;font-weight:700;">实时</div>
<div id="t62" class="t " style="left:588.5px;top:372.50px;font-size:14.6px;line-height:17px;color:#fff;font-weight:400;">97</div>
<div id="t63" class="t " style="left:598.2px;top:395.05px;font-size:6.93px;line-height:9.7px;color:#fff;font-weight:400;">附件数量</div>
<div id="t64" class="t " style="left:691.8px;top:372.50px;font-size:14.6px;line-height:17px;color:#fff;font-weight:400;">16MB</div>
<div id="t65" class="t " style="left:700.1px;top:395.05px;font-size:6.93px;line-height:9.7px;color:#fff;font-weight:400;">附件大小</div>
<div id="t66" class="t " style="left:811.75px;top:350.93px;font-size:7.47px;line-height:10.46px;color:#fff;font-weight:400;">图片统计</div>
<div id="t67" class="t " style="left:985.95px;top:352.10px;font-size:6.4px;line-height:8.96px;color:#fff;font-weight:700;">实时</div>
<div id="t68" class="t " style="left:811.45px;top:372.50px;font-size:14.6px;line-height:17px;color:#fff;font-weight:400;">93</div>
<div id="t69" class="t " style="left:821.95px;top:395.05px;font-size:6.93px;line-height:9.7px;color:#fff;font-weight:400;">图片数量</div>
<div id="t70" class="t " style="left:914.75px;top:372.50px;font-size:14.6px;line-height:17px;color:#fff;font-weight:400;">16MB</div>
<div id="t71" class="t " style="left:923.05px;top:395.05px;font-size:6.93px;line-height:9.7px;color:#fff;font-weight:400;">图片大小</div>
</body></html>
